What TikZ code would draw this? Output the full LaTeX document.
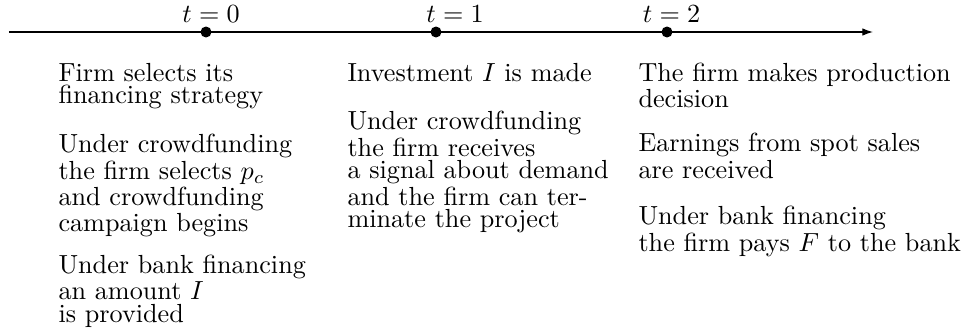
\documentclass[tikz,border=0pt]{standalone}
\usetikzlibrary{arrows.meta}
\setlength{\lineskiplimit}{-10pt}
\newcommand{\coltextfont}{\fontsize{10pt}{8.45pt}\selectfont}
\begin{document}
\begin{tikzpicture}[x=0.382pt,y=-0.382pt,
  txt/.style={anchor=base west,inner sep=0pt,text width=130pt,align=left,
    font=\coltextfont},
  tlabel/.style={anchor=base,inner sep=0pt,font=\coltextfont},
  tdot/.style={circle,fill=black,inner sep=0pt,minimum size=4.2pt},
  axis/.style={line width=0.45pt,-{Latex[length=4.1pt,width=2.9pt]}}]
\useasboundingbox (0,0) rectangle (963,331);
\coordinate (start) at (9,32);
\coordinate (end) at (873,32);
\draw[axis] (start) -- (end);
\node[tdot] (d0) at (206,32) {};
\node[tdot] (d1) at (436,32) {};
\node[tdot] (d2) at (667,32) {};
\node[tlabel] (l0) at (211,23) {$t=0$};
\node[tlabel] (l1) at (455,23) {$t=1$};
\node[tlabel] (l2) at (671.5,23) {$t=2$};
% column t = 0
\node[txt] (a1) at (58,81.5) {Firm selects its\\financing strategy};
\node[txt] (a2) at (58,153) {Under crowdfunding\\the firm selects $p_c$\\and crowdfunding\\campaign begins};
\node[txt] (a3) at (58,274) {Under bank financing\\an amount $I$\\is provided};
% column t = 1
\node[txt] (b1) at (347,81.5) {Investment $I$ is made};
\node[txt] (b2) at (347,130) {Under crowdfunding\\the firm receives\\a signal about demand\\and the firm can ter-\\minate the project};
% column t = 2
\node[txt] (c1) at (638,81.5) {The firm makes production\\decision};
\node[txt] (c2) at (638,152) {Earnings from spot sales\\are received};
\node[txt] (c3) at (638,225) {Under bank financing\\the firm pays $F$ to the bank};
\end{tikzpicture}
\end{document}
